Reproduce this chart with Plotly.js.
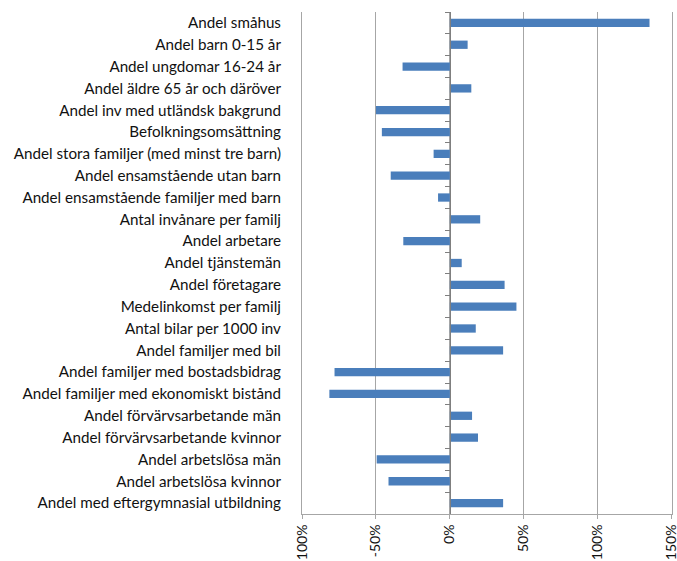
<!DOCTYPE html>
<html>
<head>
<meta charset="utf-8">
<script src="https://cdn.plot.ly/plotly-3.0.1.min.js"></script>
<style>html,body{margin:0;padding:0;background:#fff}#chart{width:677px;height:561px}</style>
</head>
<body>
<div id="chart"></div>
<script>
const categories = [
  "Andel småhus",
  "Andel barn 0-15 år",
  "Andel ungdomar 16-24 år",
  "Andel äldre 65 år och däröver",
  "Andel inv med utländsk bakgrund",
  "Befolkningsomsättning",
  "Andel stora familjer (med minst tre barn)",
  "Andel ensamstående utan barn",
  "Andel ensamstående familjer med barn",
  "Antal invånare per familj",
  "Andel arbetare",
  "Andel tjänstemän",
  "Andel företagare",
  "Medelinkomst per familj",
  "Antal bilar per 1000 inv",
  "Andel familjer med bil",
  "Andel familjer med bostadsbidrag",
  "Andel familjer med ekonomiskt bistånd",
  "Andel förvärvsarbetande män",
  "Andel förvärvsarbetande kvinnor",
  "Andel arbetslösa män",
  "Andel arbetslösa kvinnor",
  "Andel med eftergymnasial utbildning"
];
const values = [135, 12, -32, 14.5, -50, -46, -11, -40, -8, 20.5, -31.5, 8, 37, 45, 17.5, 36, -78, -81.5, 15, 19, -49.5, -41.5, 36];
const tickValues = [-100, -50, 0, 50, 100, 150];
const tickLabels = ["-100%", "-50%", "0%", "50%", "100%", "150%"];

const font = {family: "Lato, 'Open Sans', sans-serif", size: 15.2, color: "#111111"};
const tickFont = {family: "Lato, 'Open Sans', sans-serif", size: 14, color: "#111111"};

const data = [
  {
    type: "bar", orientation: "h",
    x: values, y: categories,
    marker: {color: "#4a7ebb", line: {color: "#4a7ebb", width: 0}},
    hoverinfo: "x+y"
  },
  {
    type: "bar", orientation: "h",
    x: values, y: categories, yaxis: "y2",
    marker: {color: "rgba(0,0,0,0)"},
    hoverinfo: "skip", showlegend: false
  }
];

const layout = {
  width: 677, height: 561,
  margin: {l: 302, r: 5, t: 12, b: 47, pad: 0},
  paper_bgcolor: "#ffffff", plot_bgcolor: "#ffffff",
  showlegend: false,
  bargap: 0.62,
  font: font,
  xaxis: {
    range: [-100, 150.2],
    tickvals: tickValues, ticktext: tickLabels,
    tickangle: -90,
    tickfont: tickFont,
    ticklabeloverflow: "allow",
    showgrid: true, gridcolor: "#a6a6a6", gridwidth: 1,
    zeroline: false,
    showline: true, linecolor: "#a6a6a6", linewidth: 1,
    ticks: "outside", ticklen: 4, tickcolor: "#a6a6a6",
    fixedrange: true
  },
  yaxis: {
    type: "category",
    categoryorder: "array", categoryarray: categories,
    autorange: "reversed",
    tickfont: font,
    showgrid: false, zeroline: false,
    showline: true, mirror: true, linecolor: "#a6a6a6", linewidth: 1,
    ticks: "", ticklabelstandoff: 17,
    fixedrange: true
  },
  yaxis2: {
    type: "category",
    overlaying: "y", matches: "y",
    anchor: "free", position: 0.3995,
    showticklabels: false,
    showgrid: false, zeroline: false,
    showline: true, linecolor: "#7f7f7f", linewidth: 1,
    ticks: "outside", ticklen: 5, tickcolor: "#7f7f7f", tickwidth: 1,
    tickson: "boundaries",
    fixedrange: true
  }
};

Plotly.newPlot("chart", data, layout, {displayModeBar: false, staticPlot: true});
</script>
</body>
</html>
